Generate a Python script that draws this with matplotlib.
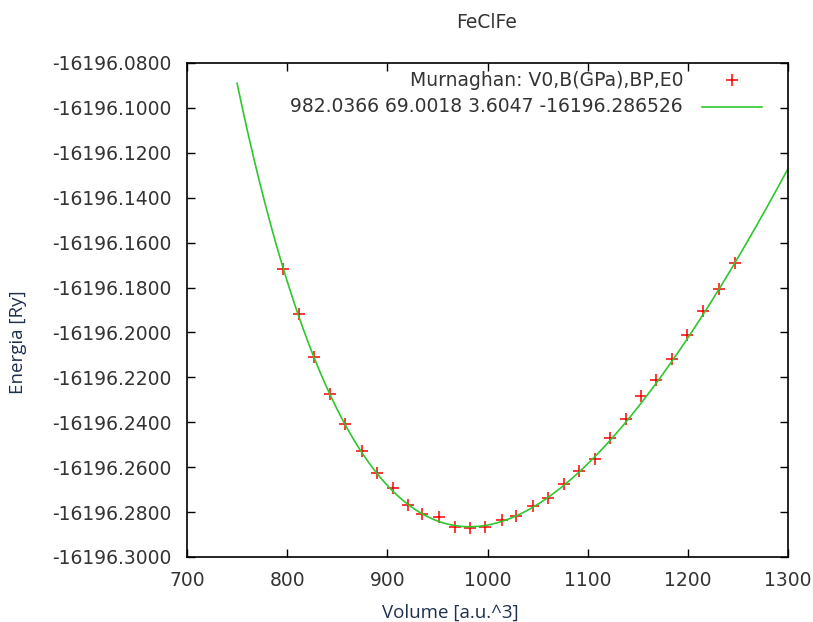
import numpy as np
import matplotlib
matplotlib.use("Agg")
import matplotlib.pyplot as plt
from matplotlib.ticker import FixedLocator
from matplotlib.lines import Line2D

# Data
volumes = [796.0, 812.0, 827.0, 843.0, 857.9, 874.9, 889.9, 905.8, 920.8, 934.8,
           951.8, 967.7, 982.7, 997.7, 1014.7, 1028.6, 1045.6, 1060.6, 1076.6, 1091.5,
           1107.5, 1122.5, 1138.4, 1153.4, 1168.4, 1184.4, 1199.3, 1215.3, 1231.3, 1247.3]
energies = [-16196.1717, -16196.1917, -16196.2108, -16196.2273, -16196.2407, -16196.2527,
            -16196.2624, -16196.2691, -16196.2767, -16196.2807, -16196.2820, -16196.2865,
            -16196.2869, -16196.2865, -16196.2834, -16196.2816, -16196.2771, -16196.2736,
            -16196.2673, -16196.2616, -16196.2562, -16196.2469, -16196.2384, -16196.2282,
            -16196.2211, -16196.2117, -16196.2010, -16196.1904, -16196.1806, -16196.1690]

# Murnaghan fit parameters from the legend
V0 = 982.0366
B_GPa = 69.0018
BP = 3.6047
E0 = -16196.286526
fit_vmin, fit_vmax = 750, 1300

x_ticks = [700, 800, 900, 1000, 1100, 1200, 1300]
y_ticks = [-16196.30, -16196.28, -16196.26, -16196.24, -16196.22, -16196.20, -16196.18,
           -16196.16, -16196.14, -16196.12, -16196.10, -16196.08]

title = "FeClFe"
xlabel = "Volume [a.u.^3]"
ylabel = "Energia [Ry]"
key1 = "Murnaghan: V0,B(GPa),BP,E0"
key2 = "982.0366 69.0018 3.6047 -16196.286526"

B = B_GPa / 14710.507848  # Ry/bohr^3
vfit = np.linspace(fit_vmin, fit_vmax, 400)
efit = E0 + B * vfit / BP * ((V0 / vfit) ** BP / (BP - 1) + 1) - B * V0 / (BP - 1)

plt.rcParams['font.family'] = ['DejaVu Sans']

W, H = 813, 622
fig = plt.figure(figsize=(W/100, H/100), dpi=100)
ax = fig.add_axes([187/W, 1-557/H, (788-187)/W, (557-63)/H])

red = '#ff0000'
green = '#2ec82e'
txt = '#333333'
fs = 13.5

ax.plot(volumes, energies, linestyle='none', marker='+', color=red,
        markersize=9, markeredgewidth=1.1)
ax.plot(vfit, efit, color=green, linewidth=1.2)

ax.set_xlim(700, 1300)
ax.set_ylim(-16196.30, -16196.08)
ax.xaxis.set_major_locator(FixedLocator(x_ticks))
ax.yaxis.set_major_locator(FixedLocator(y_ticks))
ax.set_xticklabels([str(t) for t in x_ticks])
ax.set_yticklabels(["%.4f" % t for t in y_ticks])
ax.tick_params(direction='in', length=6, width=1, top=True, right=True,
               labelsize=fs, labelcolor=txt)
ax.tick_params(axis='y', pad=11)
ax.tick_params(axis='x', pad=10)
for s in ax.spines.values():
    s.set_linewidth(1.2)
    s.set_color('black')

fig.text(487/W, 1-22/H, title, ha='center', va='center', fontsize=fs, color=txt)
fig.text(18/W, 1-342/H, ylabel, ha='center', va='center', rotation=90,
         fontsize=13.5, color='#1f2f4f', family=['Open Sans', 'DejaVu Sans'])
fig.text(450/W, 1-613/H, xlabel, ha='center', va='center',
         fontsize=13.5, color='#1f2f4f', family=['Open Sans', 'DejaVu Sans'])

# Key (gnuplot style: right-justified text, sample on the right)
fig.text(683/W, 1-80/H, key1, ha='right', va='center', fontsize=fs, color=txt)
fig.text(683/W, 1-107/H, key2, ha='right', va='center', fontsize=fs, color=txt)
fig.add_artist(Line2D([732/W], [1-80/H], transform=fig.transFigure, linestyle='none',
                      marker='+', color=red, markersize=9, markeredgewidth=1.1))
fig.add_artist(Line2D([702/W, 762/W], [1-107/H, 1-107/H], transform=fig.transFigure,
                      color=green, linewidth=1.2))

fig.savefig("out.png", dpi=100)
